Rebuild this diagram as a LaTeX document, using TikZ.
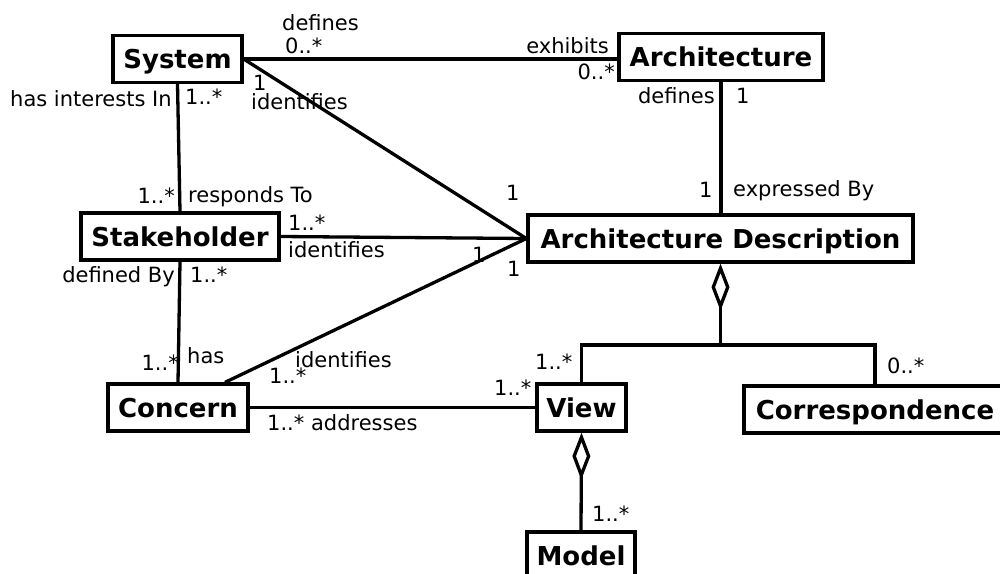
\documentclass[tikz,border=0pt]{standalone}
\usepackage{fontspec}
\setmainfont{DejaVu Sans}
\usetikzlibrary{arrows.meta}
\begin{document}
\begin{tikzpicture}[x=1pt,y=-1pt,
  cls/.style={draw,line width=3.3pt,inner sep=0pt,font=\fontsize{26}{30}\selectfont\bfseries,minimum height=47pt,text height=19pt,text depth=0pt},
  lbl/.style={inner sep=0pt,font=\fontsize{21}{25}\selectfont},
  conn/.style={line width=3.3pt},
  agg/.style={line width=3.3pt,line join=miter,{Diamond[open,length=47pt,width=18pt]}-}]
\useasboundingbox (0,0) rectangle (1000,573);
% classes
\node[cls,minimum width=129pt] (sys) at (177.5,59) {System};
\node[cls,minimum width=204pt] (arch) at (721,57) {Architecture};
\node[cls,minimum width=385pt] (ad) at (720.5,238.5) {Architecture Description};
\node[cls,minimum width=198pt] (stk) at (180,236.5) {Stakeholder};
\node[cls,minimum width=140pt] (con) at (178,407.5) {Concern};
\node[cls,minimum width=89pt] (view) at (581.5,407.5) {View};
\node[cls,minimum width=262pt] (corr) at (875,409.5) {Correspondence};
\node[cls,minimum width=108pt] (model) at (581,555.5) {Model};
\coordinate (bar) at (720.5,345);
% connectors
\draw[conn] (sys.east) -- (sys.east -| arch.west);
\draw[conn] (sys.east) -- (ad.west);
\draw[conn] (stk.east) -- (ad.west);
\draw[conn] ([xshift=47pt]con.north) -- (ad.west);
\draw[conn] (arch.south) -- (arch.south |- ad.north);
\draw[conn] (sys.south) -- (stk.north);
\draw[conn] (stk.south) -- (con.north);
\draw[conn] (con.east) -- (view.west);
\draw[agg] (ad.south) -- (bar);
\draw[conn,line join=miter] (bar) -| (view.north);
\draw[conn,line join=miter] (bar) -| (corr.north);
\draw[agg] (view.south) -- (model.north);
% labels
\node[lbl,anchor=base west] (l1) at (282,30) {defines};
\node[lbl,anchor=base west] (l2) at (285,53) {0..*};
\node[lbl,anchor=base east] (l3) at (609,53) {exhibits};
\node[lbl,anchor=base east] (l4) at (615,79) {0..*};
\node[lbl,anchor=base west] (l5) at (10,106) {has interests In};
\node[lbl,anchor=base west] (l6) at (185,104) {1..*};
\node[lbl,anchor=base west] (l7) at (253,90) {1};
\node[lbl,anchor=base west] (l8) at (251,109) {identifies};
\node[lbl,anchor=base east] (l9) at (715,103) {defines};
\node[lbl,anchor=base west] (l10) at (736,103) {1};
\node[lbl,anchor=base west] (l11) at (506,200) {1};
\node[lbl,anchor=base west] (l12) at (699,197) {1};
\node[lbl,anchor=base west] (l13) at (733,196) {expressed By};
\node[lbl,anchor=base east] (l14) at (175,203) {1..*};
\node[lbl,anchor=base west] (l15) at (188,202) {responds To};
\node[lbl,anchor=base west] (l16) at (288,230) {1..*};
\node[lbl,anchor=base west] (l17) at (288,257) {identifies};
\node[lbl,anchor=base west] (l18) at (472,262) {1};
\node[lbl,anchor=base west] (l19) at (507,276) {1};
\node[lbl,anchor=base east] (l20) at (175,282) {defined By};
\node[lbl,anchor=base west] (l21) at (190,282) {1..*};
\node[lbl,anchor=base east] (l22) at (179,370) {1..*};
\node[lbl,anchor=base west] (l23) at (187,363) {has};
\node[lbl,anchor=base west] (l24) at (295,367) {identifies};
\node[lbl,anchor=base west] (l25) at (269,383) {1..*};
\node[lbl,anchor=base west] (l26) at (267,430) {1..* addresses};
\node[lbl,anchor=base west] (l27) at (494,395) {1..*};
\node[lbl,anchor=base west] (l28) at (535,369) {1..*};
\node[lbl,anchor=base west] (l29) at (887,373) {0..*};
\node[lbl,anchor=base west] (l30) at (592,521) {1..*};
\end{tikzpicture}
\end{document}
